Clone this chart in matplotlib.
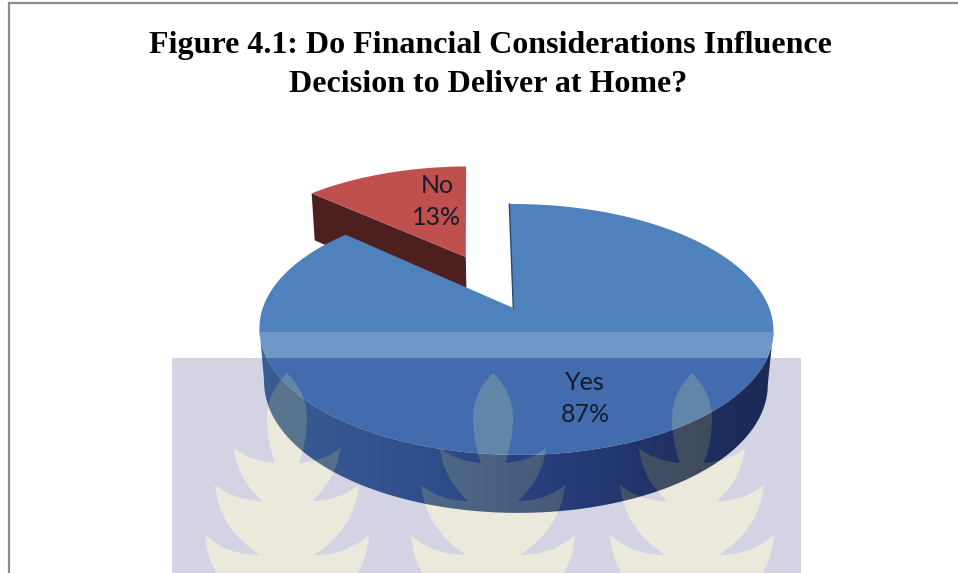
import numpy as np
import matplotlib
matplotlib.use("Agg")
import matplotlib.pyplot as plt
from matplotlib.path import Path
from matplotlib.patches import PathPatch, Polygon

# ---- data ----
categories = ["Yes", "No"]
values = [87, 13]
title_lines = ["Figure 4.1: Do Financial Considerations Influence",
               "Decision to Deliver at Home?"]

W, H = 958, 573
fig = plt.figure(figsize=(W / 100, H / 100), dpi=100, facecolor="white")
ax = fig.add_axes([0, 0, 1, 1])
ax.set_xlim(0, W)
ax.set_ylim(H, 0)
ax.axis("off")

# ---- projection of the pie disc on to the picture ----
APEX_X, APEX_Y = 513.3, 308.0
C, A, K = 0.171, -69.1, 253.2


def project(u, v, drop=False):
    u, v = np.asarray(u, float), np.asarray(v, float)
    w = 1 + C * v
    x = APEX_X + K * u / w + 2.7 * (1 - v) * np.hypot(u, v)
    y = (A * v + APEX_Y) / w
    if drop:
        x = 515.5 + (x - 516) * 0.98
        y = y + 58 - (v + 1) * 5.2
    return x, y


def ring(t1, t2, n=160):
    t = np.radians(np.linspace(t1, t2, n))
    return np.sin(t), np.cos(t)


START = -1.06
yes_sweep, no_sweep = [v / sum(values) * 360 for v in values]
YES_COL, NO_COL = "#4F81BD", "#C0504D"

# ---- exploded slice ("No") ----
mid = np.radians(START - no_sweep / 2)
ox, oy = 0.496 * np.sin(mid), 0.496 * np.cos(mid)
ru, rv = ring(START - no_sweep, START)
ru, rv = ru + ox, rv + oy
ex, ey = project(ru, rv)
apx, apy = project(ox, oy)
dx1, dy1 = project(ru[0], rv[0], True)
dx2, dy2 = project(ox, oy, True)
ax.add_patch(Polygon([(ex[0], ey[0]), (ex[0] + 3, dy1), (apx + 1, dy2), (apx, apy)],
                     closed=True, fc="#4D1F1E", ec="none"))
ax.add_patch(Polygon(np.r_[np.c_[ex, ey], [[apx, apy]]], closed=True, fc=NO_COL, ec="none"))

# ---- side wall of the main slice, shaded left to right ----
tu, tv = ring(90, 270)
sx, sy = project(tu, tv)
bx, by = project(tu, tv, True)
i1, i2 = np.argmax(sx), np.argmin(sx)
side = np.r_[np.c_[sx[i1:i2 + 1], sy[i1:i2 + 1]], np.c_[bx[i1:i2 + 1], by[i1:i2 + 1]][::-1]]
side_patch = Polygon(side, closed=True, fc="none", ec="none")
ax.add_patch(side_patch)
xs = np.arange(255, 780)
stops_x = [259, 400, 516, 640, 773]
stops = np.array([[70, 110, 155], [58, 95, 150], [48, 78, 135], [38, 60, 105], [30, 48, 80]]) / 255
grad = np.stack([np.interp(xs, stops_x, stops[:, k]) for k in range(3)], axis=-1)[None, :, :]
im = ax.imshow(grad, extent=(255, 780, 520, 320), aspect="auto", zorder=1)
im.set_clip_path(side_patch)
ax.set_xlim(0, W)
ax.set_ylim(H, 0)

# ---- top face of the main slice ----
yu, yv = ring(START, START + yes_sweep, 400)
yx, yy = project(yu, yv)
top = np.r_[np.c_[yx, yy], [[APEX_X, APEX_Y]]]
ax.add_patch(Polygon(top, closed=True, fc=YES_COL, ec="none", zorder=2))
ax.plot([yx[0], APEX_X], [yy[0], APEX_Y], color="#2A4A70", lw=1.0, zorder=2.1)

# ---- lighter band across the pie ----
band = Polygon([(250, 332), (780, 332), (780, 358), (250, 358)], closed=True,
               fc="white", alpha=0.18, ec="none", zorder=3)
ax.add_patch(band)
clip1 = Polygon(np.c_[project(*ring(0, 360, 400))[0], project(*ring(0, 360, 400))[1]],
                closed=True, transform=ax.transData)
band.set_clip_path(clip1)

# ---- watermark: tinted rectangle with three pale trees ----
# half outline as: start point, then (control, end) pairs of quadratic curves
half = [(0, 0),
        (20, 20), (20, 45), (20, 68), (12, 90),
        (38, 88), (53, 75), (50, 105), (25, 128),
        (52, 128), (72, 112), (68, 155), (27, 182),
        (60, 182), (82, 162), (80, 190), (66, 205),
        (48, 210), (30, 215)]
half = np.array(half, float)
tree = np.r_[half, (half * [-1, 1])[::-1][1:]]
tree_centres = [287, 493, 692]
tree_top = 373
verts = [(172, 358), (801, 358), (801, 580), (172, 580), (172, 358)]
codes = [Path.MOVETO] + [Path.LINETO] * 3 + [Path.CLOSEPOLY]
tree_codes = [Path.MOVETO] + [Path.CURVE3] * (len(tree) - 1)
tree_paths = []
for cx in tree_centres:
    pts = tree + [cx, tree_top]
    tree_paths.append(Path(np.r_[pts, pts[:1]], tree_codes + [Path.CLOSEPOLY]))
    area = 0.5 * np.sum(pts[:, 0] * np.roll(pts[:, 1], -1) - np.roll(pts[:, 0], -1) * pts[:, 1])
    oriented = pts if area < 0 else pts[::-1]
    verts += list(map(tuple, oriented)) + [tuple(oriented[0])]
    codes += tree_codes + [Path.CLOSEPOLY]
ax.add_patch(PathPatch(Path(verts, codes), fc=(15 / 255, 15 / 255, 110 / 255), alpha=0.18,
                       ec="none", zorder=4))
for p in tree_paths:
    ax.add_patch(PathPatch(p, fc=(164 / 255, 152 / 255, 100 / 255), alpha=0.22,
                           ec="none", zorder=4))

# ---- labels ----
lab = dict(family=["Lato", "DejaVu Sans"], fontsize=18, color="#141c2c", ha="center",
           va="center", linespacing=1.45, zorder=6)
ax.text(585, 398.5, f"{categories[0]}\n{values[0]}%", **lab)
ax.text(437, 201.5, f"{categories[1]}\n{values[1]}%", **lab)

# ---- title ----
tt = dict(family="Liberation Serif", fontweight="bold", fontsize=23, color="black",
          ha="center", va="center", zorder=6)
ax.text(490, 45, title_lines[0], **tt)
ax.text(488, 84, title_lines[1], **tt)

# ---- frame ----
ax.plot([9.5, 9.5, W + 5], [H + 5, 3, 3], color="#8C8C8C", lw=1.6, zorder=7, clip_on=True,
        solid_joinstyle="miter")

fig.savefig("out.png", dpi=100)
